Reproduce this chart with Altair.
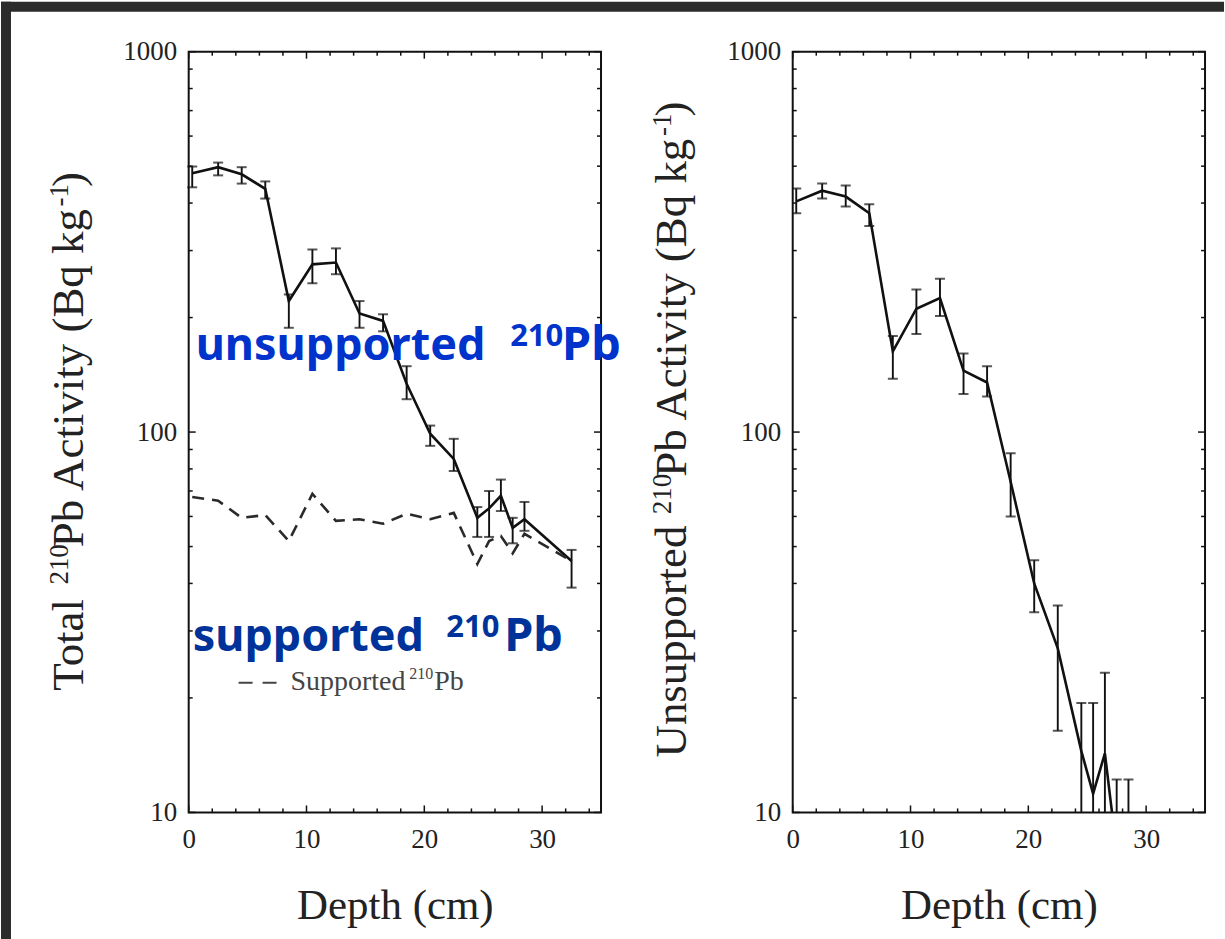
import altair as alt
import pandas as pd

# ---------------- data ----------------
depth = [0.3, 2.5, 4.5, 6.5, 8.5, 10.5, 12.5, 14.5, 16.5, 18.5, 20.5, 22.5,
         24.5, 25.5, 26.5, 27.5, 28.5, 32.5]
total = [479, 497, 476, 436, 221, 276, 279, 205, 196, 134, 99, 85,
         59.5, 63, 68, 56, 59, 45.8]
total_lo = [440, 473, 450, 411, 188, 246, 260, 188, 184, 122, 92, 79,
            53, 53, 62, 51, 55, 39]
total_hi = [499, 511, 497, 456, 230, 302, 304, 221, 204, 149, 104, 96,
            63.5, 70, 75, 59.5, 65.5, 49]
supported = [67.5, 66, 59.5, 60.5, 51.7, 68.8, 58.4, 59, 57.4, 61, 59, 61.3,
             45, 51.7, 53.3, 48, 54, 45.8]

depth_u = [0.3, 2.5, 4.5, 6.5, 8.5, 10.5, 12.5, 14.5, 16.5, 18.5, 20.5, 22.5,
           24.5, 25.5, 26.5, 27.5, 28.5]
unsup = [404, 431, 416, 376, 163, 211, 225, 145, 135, 74, 40, 27,
         14.5, 11.2, 14.3, 7.9, 6.0]
unsup_lo = [376, 411, 392, 348, 138, 181, 202, 126, 124, 60, 33.6, 16.4,
            5, 5, 9, 5, 5]
unsup_hi = [437, 450, 445, 397, 179, 237, 253, 161, 149, 88, 46, 35,
            19.4, 19.4, 23.3, 12.2, 12.2]

x_ticks = [0, 10, 20, 30]
x_minor = [2, 4, 6, 8, 12, 14, 16, 18, 22, 24, 26, 28, 32, 34]
y_ticks = [10, 100, 1000]
y_minor = [20, 30, 40, 50, 60, 70, 80, 90, 200, 300, 400, 500, 600, 700, 800, 900]

# axis titles, split into (text, superscript?) pieces
title_left = [("Total ", False), ("210", True), ("Pb Activity (Bq kg", False),
              ("-1", True), (")", False)]
title_right = [("Unsupported ", False), ("210", True), ("Pb Activity (Bq kg", False),
               ("-1", True), (")", False)]
x_title = "Depth (cm)"

# ---------------- styling ----------------
W, H = 413, 762
SERIF = "Liberation Serif"
INK = "#111111"
TXT = "#222222"
xs = alt.Scale(domain=[0, 35], nice=False, zero=False)
ys = alt.Scale(type="log", domain=[10, 1000], nice=False)

# Times / Liberation Serif advance widths (em) for laying out the rotated titles
TIMES_W = {'T': .611, 'o': .5, 't': .278, 'a': .444, 'l': .278, ' ': .25, '2': .5,
           '1': .5, '0': .5, 'P': .556, 'b': .5, 'A': .722, 'c': .444, 'i': .278,
           'v': .5, 'y': .5, '(': .333, 'B': .667, 'q': .5, 'k': .5, 'g': .5,
           '-': .333, ')': .333, 'U': .722, 'n': .5, 's': .389, 'u': .5, 'p': .5,
           'r': .333, 'e': .444, 'd': .5}

XAXIS = alt.Axis(values=x_ticks, format="d", title=x_title,
                 labelFont=SERIF, labelFontSize=27, labelColor=TXT,
                 labelPadding=14, labelFlush=False, labelOverlap=False,
                 ticks=False, tickSize=0, domain=False, grid=False,
                 titleFont=SERIF, titleFontSize=43, titleFontWeight="normal",
                 titleColor=TXT, titleBaseline="alphabetic",
                 titleY=106, titleX=W / 2)

YAXIS = alt.Axis(values=y_ticks, format="d", title=None,
                 labelFont=SERIF, labelFontSize=27, labelColor=TXT,
                 labelPadding=12, labelFlush=False, labelOverlap=False,
                 ticks=False, tickSize=0, domain=False, grid=False)

one = pd.DataFrame({"k": [0]})


def rotated_title(pieces, x_base, y_start, size=45, sup_size=27, raise_=15):
    layers = []
    off = 0.0
    for text, sup in pieces:
        fs = sup_size if sup else size
        layers.append(alt.Chart(one).mark_text(
            text=text, font=SERIF, fontSize=fs, color=TXT, angle=270,
            align="left", baseline="alphabetic").encode(
            x=alt.value(x_base - (raise_ if sup else 0)), y=alt.value(y_start - off)))
        off += sum(TIMES_W.get(c, 0.5) for c in text) * fs
        if sup:
            off -= 3
    return layers


def tick_layers():
    layers = []
    for vals, L in [(x_ticks, 7), (x_minor, 4)]:
        base = alt.Chart(pd.DataFrame({"t": vals})).mark_rule(color=INK, strokeWidth=1.5)
        xe = alt.X("t:Q", scale=xs, axis=XAXIS)
        layers.append(base.encode(x=xe, y=alt.value(H), y2=alt.value(H - L)))
        layers.append(base.encode(x=xe, y=alt.value(0), y2=alt.value(L)))
    for vals, L in [(y_ticks, 7), (y_minor, 4)]:
        base = alt.Chart(pd.DataFrame({"v": vals})).mark_rule(color=INK, strokeWidth=1.5)
        ye = alt.Y("v:Q", scale=ys, axis=YAXIS)
        layers.append(base.encode(y=ye, x=alt.value(0), x2=alt.value(L)))
        layers.append(base.encode(y=ye, x=alt.value(W), x2=alt.value(W - L)))
    return layers


def series_layers(df, val, lo, hi, clip):
    X = alt.X("depth:Q", scale=xs, axis=XAXIS)
    line = alt.Chart(df).mark_line(color=INK, strokeWidth=2.6, clip=clip).encode(
        x=X, y=alt.Y(f"{val}:Q", scale=ys, axis=YAXIS))
    err = alt.Chart(df).mark_rule(color=INK, strokeWidth=1.9, clip=clip).encode(
        x=X, y=alt.Y(f"{lo}:Q", scale=ys, axis=YAXIS), y2=f"{hi}:Q")
    cap_lo = alt.Chart(df).mark_tick(color=INK, orient="horizontal", size=10,
                                     thickness=2, clip=clip).encode(
        x=X, y=alt.Y(f"{lo}:Q", scale=ys, axis=YAXIS))
    cap_hi = alt.Chart(df).mark_tick(color=INK, orient="horizontal", size=10,
                                     thickness=2, clip=clip).encode(
        x=X, y=alt.Y(f"{hi}:Q", scale=ys, axis=YAXIS))
    return [line, err, cap_lo, cap_hi]


def label(text, x, y, size, color, font=SERIF, weight="normal"):
    return alt.Chart(one).mark_text(
        text=text, font=font, fontSize=size, fontWeight=weight, color=color,
        align="left", baseline="alphabetic").encode(x=alt.value(x), y=alt.value(y))


df_total = pd.DataFrame({"depth": depth, "total": total, "lo": total_lo,
                         "hi": total_hi, "supported": supported})
df_unsup = pd.DataFrame({"depth": depth_u, "unsup": unsup, "lo": unsup_lo,
                         "hi": unsup_hi})

# dark frame of the screenshot (top and left bands)
border = [
    alt.Chart(one).mark_rect(color="#2b2b2b").encode(
        x=alt.value(-188), x2=alt.value(1037), y=alt.value(-50), y2=alt.value(-40)),
    alt.Chart(one).mark_rect(color="#2b2b2b").encode(
        x=alt.value(-188), x2=alt.value(-178), y=alt.value(-50), y2=alt.value(889)),
]

supported_line = alt.Chart(df_total).mark_line(
    color="#2a2a2a", strokeWidth=2.6, strokeDash=[12, 8]).encode(
    x=alt.X("depth:Q", scale=xs, axis=XAXIS),
    y=alt.Y("supported:Q", scale=ys, axis=YAXIS))

legend = [
    alt.Chart(one).mark_rule(color="#444444", strokeWidth=2,
                             strokeDash=[14, 10]).encode(
        x=alt.value(50), x2=alt.value(89), y=alt.value(632)),
    label("Supported", 102, 639, 28, "#444444"),
    label("210", 221, 628, 16, "#444444"),
    label("Pb", 246, 639, 28, "#444444"),
]

BLUE1, BLUE2, SANS = "#0033cc", "#003399", "Noto Sans"
annotations = [
    label("unsupported", 7, 309, 45, BLUE1, SANS, "bold"),
    label("210", 322, 295, 31, BLUE1, SANS, "bold"),
    label("Pb", 374, 309, 47, BLUE1, SANS, "bold"),
    label("supported", 4, 600, 45, BLUE2, SANS, "bold"),
    label("210", 258, 586, 31, BLUE2, SANS, "bold"),
    label("Pb", 316, 600, 47, BLUE2, SANS, "bold"),
]

left = alt.layer(
    *border,
    *series_layers(df_total, "total", "lo", "hi", False),
    supported_line,
    *tick_layers(),
    *legend,
    *annotations,
    *rotated_title(title_left, -106, 640),
).properties(width=W, height=H)

right = alt.layer(
    *series_layers(df_unsup, "unsup", "lo", "hi", True),
    *tick_layers(),
    *rotated_title(title_right, -107, 707),
).properties(width=W, height=H)

chart = alt.hconcat(left, right, spacing=192, bounds="flush").configure_view(
    stroke=INK, strokeWidth=2).properties(padding=0, background="white")

chart.save("out.html", embed_options={"renderer": "svg", "actions": False})
